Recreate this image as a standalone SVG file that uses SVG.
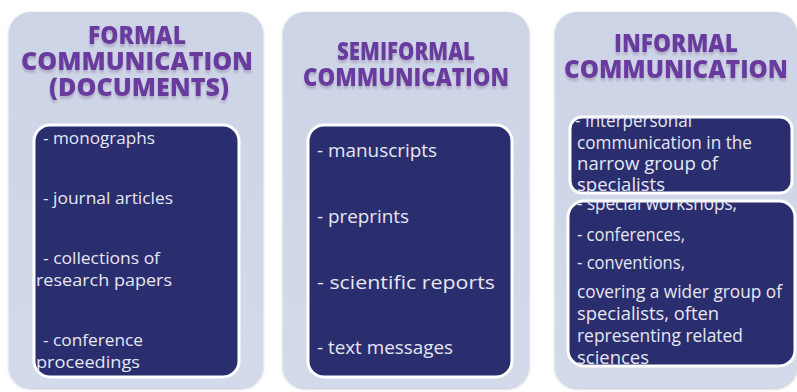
<svg xmlns="http://www.w3.org/2000/svg" width="797" height="392" viewBox="0 0 797 392">
  <defs>
    <linearGradient id="panelGrad" x1="0" y1="0" x2="0" y2="1">
      <stop offset="0" stop-color="#ccd4e6"/>
      <stop offset="1" stop-color="#d3dae9"/>
    </linearGradient>
    <filter id="panelShadow" x="-5%" y="-5%" width="110%" height="110%">
      <feGaussianBlur in="SourceAlpha" stdDeviation="1.5"/>
      <feOffset dx="0" dy="1" result="b"/>
      <feFlood flood-color="#8a93a8" flood-opacity="0.6"/>
      <feComposite in2="b" operator="in"/>
      <feMerge><feMergeNode/><feMergeNode in="SourceGraphic"/></feMerge>
    </filter>
    <filter id="titleGlow" x="-10%" y="-20%" width="120%" height="160%">
      <feGaussianBlur in="SourceAlpha" stdDeviation="1.2"/>
      <feOffset dx="0" dy="3" result="o"/>
      <feFlood flood-color="#9a8fb0" flood-opacity="0.55"/>
      <feComposite in2="o" operator="in"/>
      <feMerge><feMergeNode/><feMergeNode in="SourceGraphic"/></feMerge>
    </filter>
    <clipPath id="clipTop"><rect x="570" y="117" width="222" height="76" rx="12"/></clipPath>
    <clipPath id="clipBot"><rect x="568" y="201" width="227" height="165" rx="16"/></clipPath>
  </defs>
  <style>
    .panel { fill: url(#panelGrad); filter: url(#panelShadow); }
    .box { fill: #2b2e6e; stroke: #ffffff; stroke-width: 3; }
    .title { font-family: "Open Sans", "Liberation Sans", sans-serif; font-weight: 800; font-size: 24px; fill: #6b3a9e; text-anchor: middle; filter: url(#titleGlow); }
    .body { font-family: "Open Sans", "Liberation Sans", sans-serif; fill: #e6e6f2; font-size: 17px; }
    .b2 { font-size: 18.5px; }
    .b3 { font-size: 17.5px; }
  </style>
  <rect width="797" height="392" fill="#ffffff"/>

  <g id="formal">
    <rect class="panel" x="9" y="12" width="254" height="376" rx="22"/>
    <text class="title" x="137" y="44" textLength="98" lengthAdjust="spacingAndGlyphs">FORMAL</text>
    <text class="title" x="137" y="70" textLength="232" lengthAdjust="spacingAndGlyphs">COMMUNICATION</text>
    <text class="title" x="139" y="96" textLength="180" lengthAdjust="spacingAndGlyphs">(DOCUMENTS)</text>
    <rect class="box" x="34" y="125" width="205" height="252" rx="16"/>
    <text class="body" x="43" y="144" textLength="112" lengthAdjust="spacingAndGlyphs">- monographs</text>
    <text class="body" x="43" y="204" textLength="130" lengthAdjust="spacingAndGlyphs">- journal articles</text>
    <text class="body" x="43" y="264" textLength="117" lengthAdjust="spacingAndGlyphs">- collections of</text>
    <text class="body" x="36" y="286" textLength="136" lengthAdjust="spacingAndGlyphs">research papers</text>
    <text class="body" x="43" y="346" textLength="100" lengthAdjust="spacingAndGlyphs">- conference</text>
    <text class="body" x="36" y="368" textLength="104" lengthAdjust="spacingAndGlyphs">proceedings</text>
  </g>

  <g id="semiformal">
    <rect class="panel" x="283" y="12" width="246" height="376" rx="22"/>
    <text class="title" x="406" y="60" textLength="138" lengthAdjust="spacingAndGlyphs">SEMIFORMAL</text>
    <text class="title" x="406" y="86" textLength="206" lengthAdjust="spacingAndGlyphs">COMMUNICATION</text>
    <rect class="box" x="308" y="125" width="204" height="252" rx="16"/>
    <text class="body b2" x="317" y="157" textLength="120" lengthAdjust="spacingAndGlyphs">- manuscripts</text>
    <text class="body b2" x="317" y="223" textLength="92" lengthAdjust="spacingAndGlyphs">- preprints</text>
    <text class="body b2" x="317" y="289" textLength="178" lengthAdjust="spacingAndGlyphs">- scientific reports</text>
    <text class="body b2" x="317" y="354" textLength="136" lengthAdjust="spacingAndGlyphs">- text messages</text>
  </g>

  <g id="informal">
    <rect class="panel" x="555" y="12" width="242" height="376" rx="22"/>
    <text class="title" x="676" y="52" textLength="124" lengthAdjust="spacingAndGlyphs">INFORMAL</text>
    <text class="title" x="676" y="78" textLength="224" lengthAdjust="spacingAndGlyphs">COMMUNICATION</text>
  </g>

  <g id="informal-narrow">
    <rect class="box" x="570" y="117" width="222" height="76" rx="12"/>
    <g clip-path="url(#clipTop)">
      <text class="body b3" x="575" y="127" textLength="117" lengthAdjust="spacingAndGlyphs">- Interpersonal</text>
      <text class="body b3" x="577" y="149" textLength="175" lengthAdjust="spacingAndGlyphs">communication in the</text>
      <text class="body b3" x="577" y="170" textLength="141" lengthAdjust="spacingAndGlyphs">narrow group of</text>
      <text class="body b3" x="577" y="191" textLength="88" lengthAdjust="spacingAndGlyphs">specialists</text>
    </g>
  </g>

  <g id="informal-wide">
    <rect class="box" x="568" y="201" width="227" height="165" rx="16"/>
    <g clip-path="url(#clipBot)">
      <text class="body b3" x="577" y="210" textLength="160" lengthAdjust="spacingAndGlyphs">- special workshops,</text>
      <text class="body b3" x="577" y="241" textLength="108" lengthAdjust="spacingAndGlyphs">- conferences,</text>
      <text class="body b3" x="577" y="269" textLength="108" lengthAdjust="spacingAndGlyphs">- conventions,</text>
      <text class="body b3" x="577" y="298" textLength="205" lengthAdjust="spacingAndGlyphs">covering a wider group of</text>
      <text class="body b3" x="577" y="320" textLength="142" lengthAdjust="spacingAndGlyphs">specialists, often</text>
      <text class="body b3" x="577" y="342" textLength="166" lengthAdjust="spacingAndGlyphs">representing related</text>
      <text class="body b3" x="577" y="364" textLength="72" lengthAdjust="spacingAndGlyphs">sciences</text>
    </g>
  </g>

  <g id="connectors"/>
</svg>
